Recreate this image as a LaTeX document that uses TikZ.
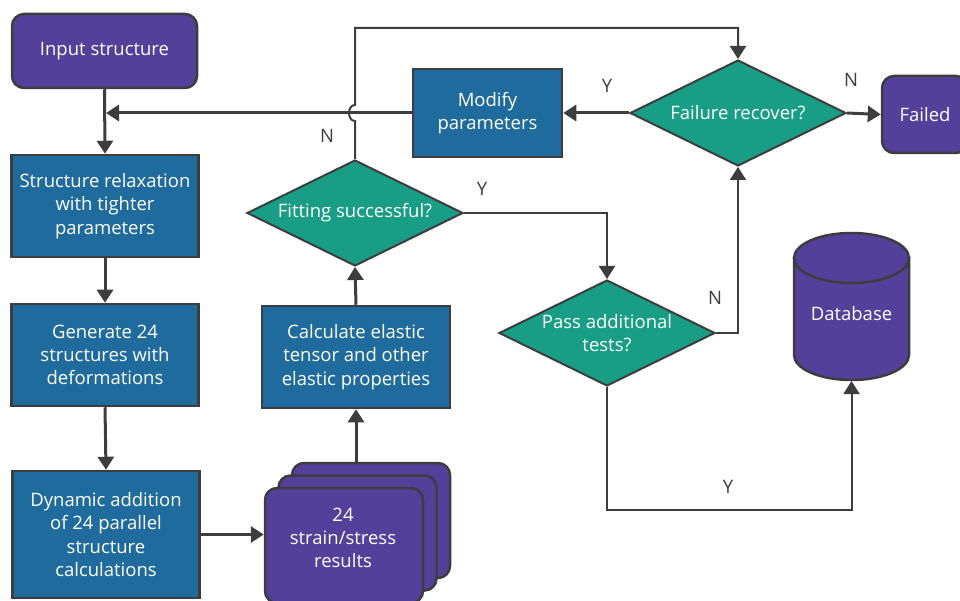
\documentclass[tikz,border=0pt]{standalone}
\usepackage{fontspec}
\setmainfont{Open Sans}
\usetikzlibrary{shapes.geometric,arrows.meta}
\definecolor{purp}{HTML}{53409A}
\definecolor{blu}{HTML}{1F6B9E}
\definecolor{tealc}{HTML}{189E85}
\definecolor{edge}{HTML}{3D3D3D}
\begin{document}
\begin{tikzpicture}[x=1pt,y=-1pt,
  font=\fontsize{18.5}{23.2}\selectfont,
  base/.style={draw=edge, line width=2.5pt, text=white, align=center, inner sep=0pt},
  term/.style={base, fill=purp, rounded corners=12pt},
  proc/.style={base, fill=blu},
  dec/.style={base, fill=tealc, diamond, aspect=2, line width=2pt, minimum width=216pt, minimum height=106pt},
  conn/.style={draw=edge, line width=3pt, -{Triangle[length=13pt,width=16pt]}},
  connthin/.style={draw=edge, line width=2pt, -{Triangle[length=13pt,width=16pt]}},
  lab/.style={text=edge}]
\useasboundingbox (0,0) rectangle (960,601);

% left column
\node[term, minimum width=185pt, minimum height=74pt] (inp) at (104.5,51) {Input structure};
\node[proc, minimum width=187pt, minimum height=102pt] (relax) at (105,206) {Structure relaxation\\with tighter\\parameters};
\node[proc, minimum width=187pt, minimum height=102pt] (gen) at (105,355) {Generate 24\\structures with\\deformations};
\node[proc, minimum width=187pt, minimum height=127pt] (dyn) at (106,534.5) {Dynamic addition\\of 24 parallel\\structure\\calculations};

% stacked documents
\node[term, minimum width=158pt, minimum height=115pt] (doc3) at (371,520.5) {};
\node[term, minimum width=158pt, minimum height=115pt] (doc2) at (357.5,533) {};
\node[term, minimum width=158pt, minimum height=115pt] (doc1) at (344,545.5) {};
\node[text=white, align=center] (doctext) at (343,538) {24\\strain/stress\\results};

% middle column
\node[proc, minimum width=188pt, minimum height=102pt] (calc) at (356,357) {Calculate elastic\\tensor and other\\elastic properties};
\node[dec] (fit) at (355,213) {Fitting successful?};
\node[proc, minimum width=149pt, minimum height=88pt] (mod) at (487.5,113) {Modify\\parameters};

% right part
\node[dec] (fail) at (738,113) {Failure recover?};
\node[term, minimum width=86pt, minimum height=77pt] (failed) at (925,114.5) {Failed};
\node[dec] (pass) at (607,333) {Pass additional\\tests?};

% database cylinder
\draw[draw=edge, line width=2.5pt, fill=purp]
  (794,258) -- (794,355)
  .. controls (794,368.8) and (819.7,380) .. (851.5,380)
  .. controls (883.3,380) and (909,368.8) .. (909,355)
  -- (909,258) -- cycle;
\draw[draw=edge, line width=2.5pt, fill=purp] (851.5,258) ellipse [x radius=57.5, y radius=25];
\node[text=white] (db) at (851.5,314) {Database};
\coordinate (dbbot) at (851.5,381);

% connectors, left column
\draw[conn] (inp.south) -- (relax.north);
\draw[conn] (relax.south) -- (gen.north);
\draw[conn] (gen.south) -- (dyn.north);
\draw[conn] (dyn.east) -- (dyn.east -| doc1.west);
\draw[conn] (calc.south |- doc3.north) -- (calc.south);
\draw[conn] (calc.north) -- (fit.south);

% modify to main line
\coordinate (join) at (inp.south |- mod.west);
\draw[conn, shorten >=1.5pt] (mod.west) -- (join);

% fitting -> failure recover (with hop)
\draw[connthin] (fit.north) -- (355,121)
  .. controls (347,121) and (347,105) .. (355,105)
  -- (355,28) -- (fail.north |- 0,28) -- (fail.north);
\node[lab] (lN1) at (327,136) {N};

% fitting -> pass
\draw[connthin] (fit.east) -| (pass.north);
\node[lab] (lY1) at (482,189) {Y};

% failure -> modify / failed
\draw[conn] (fail.west) -- (mod.east);
\node[lab] (lY2) at (607,86) {Y};
\draw[conn] (fail.east) -- (failed.west);
\node[lab] (lN2) at (851,80) {N};

% pass -> failure
\draw[connthin] (pass.east) -| (fail.south);
\node[lab] (lN3) at (715,298) {N};

% pass -> database
\draw[connthin] (pass.south) -- (pass.south |- 0,510) -| (dbbot);
\node[lab] (lY3) at (728,487) {Y};
\end{tikzpicture}
\end{document}
